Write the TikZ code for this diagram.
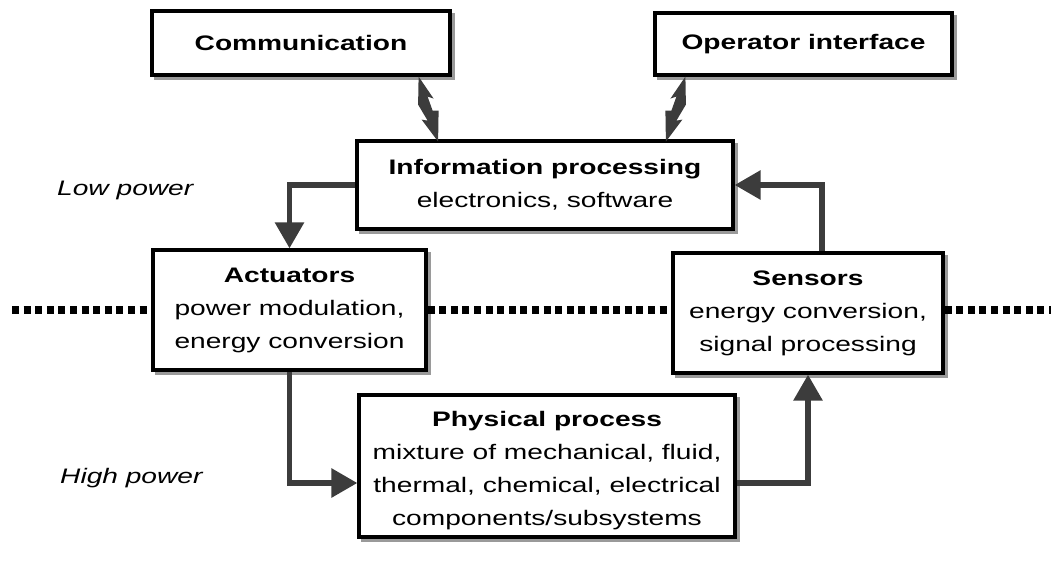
\documentclass[tikz,border=0pt]{standalone}
\usepackage{fontspec}
\setmainfont{Liberation Sans}[FakeStretch=1.34]
\usetikzlibrary{arrows.meta,calc,shadows}

\definecolor{flowgray}{HTML}{3C3C3C}
\definecolor{shadowgray}{HTML}{9A9A9A}

\tikzset{
  blockbox/.style={draw=black, line width=3.2pt, fill=white, inner sep=0pt,
    align=center, font=\fontsize{21}{33}\selectfont,
    general shadow={fill=shadowgray, draw=shadowgray, line width=3pt,
      shadow xshift=3pt, shadow yshift=-3pt}},
  flow/.style={draw=flowgray, line width=5.8pt, line join=miter,
    -{Triangle[width=28pt,length=26pt]}},
  divider/.style={draw=black, line width=8pt, dash pattern=on 7pt off 4.6pt},
  powerlabel/.style={font=\fontsize{21}{26}\selectfont\itshape, inner sep=0pt},
  lightning/.pic={
    \fill[flowgray] (0,0) -- (15,22) -- (9,20) -- (14,34) -- (20,34)
      -- (19.5,65) -- (3,43) -- (9,44) -- (-0.5,28) -- cycle;
  }
}

\begin{document}
\begin{tikzpicture}[x=1pt,y=-1pt]
  \useasboundingbox (0,0) rectangle (1051,562);

  % blocks
  \node[blockbox, minimum width=298pt, minimum height=64pt] (comm) at (301,43)
    {\textbf{Communication}};
  \node[blockbox, minimum width=297pt, minimum height=62pt] (oper) at (803.5,44)
    {\textbf{Operator interface}};
  \node[blockbox, minimum width=376pt, minimum height=88pt] (info) at (545,185)
    {\textbf{Information processing}\\electronics, software};
  \node[blockbox, minimum width=273pt, minimum height=120pt] (act) at (289.5,310)
    {\textbf{Actuators}\\power modulation,\\energy conversion};
  \node[blockbox, minimum width=270pt, minimum height=120pt] (sens) at (808,313)
    {\textbf{Sensors}\\energy conversion,\\signal processing};
  \node[blockbox, minimum width=376pt, minimum height=142pt] (phys) at (547,466)
    {\rule{0pt}{25pt}\textbf{Physical process}\\mixture of mechanical, fluid,\\thermal, chemical, electrical\\components/subsystems};

  % power levels
  \node[powerlabel, anchor=west] (low) at (57,190) {Low power};
  \node[powerlabel, anchor=west] (high) at (60,478) {High power};

  % boundary between low and high power
  \coordinate (dl) at (12,310);
  \coordinate (dr) at (1051,310);
  \draw[divider] (dl) -- (dl -| act.west);
  \draw[divider] (dl -| act.east) -- (dl -| sens.west);
  \draw[divider] (dl -| sens.east) -- (dr);

  % signal and power flow
  \draw[flow] (info.west) -| (act.north);
  \draw[flow] ($(sens.north)+(14,0)$) |- (info.east);
  \draw[flow] (act.south) |- ($(phys.west)+(0,17)$);
  \draw[flow] ($(phys.east)+(0,17)$) -| (sens.south);

  % bidirectional links to communication and operator
  \pic at ($(comm.south east)+(-33,0)$) {lightning};
  \pic[xscale=-1] at ($(oper.south west)+(32,0)$) {lightning};
\end{tikzpicture}
\end{document}
